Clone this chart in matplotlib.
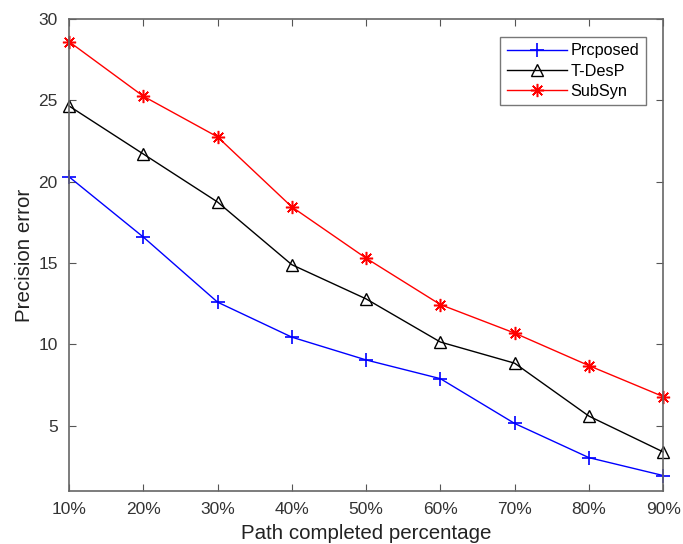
import matplotlib
matplotlib.use("Agg")
import matplotlib.pyplot as plt

x_labels = ["10%", "20%", "30%", "40%", "50%", "60%", "70%", "80%", "90%"]
proposed = [20.3, 16.6, 12.6, 10.45, 9.05, 7.9, 5.15, 3.05, 1.95]
tdesp = [24.65, 21.7, 18.75, 14.9, 12.8, 10.15, 8.85, 5.6, 3.4]
subsyn = [28.6, 25.25, 22.75, 18.45, 15.3, 12.45, 10.7, 8.7, 6.8]

plt.rcParams['font.family'] = ['Liberation Sans', 'DejaVu Sans']

fig = plt.figure(figsize=(6.83, 5.44), dpi=100)
ax = fig.add_axes([0.101, 0.0974, 0.87, 0.868])
xs = list(range(len(x_labels)))
ax.plot(xs, proposed, color='#0000ff', marker='+', markersize=10, mew=1.2, lw=1.0, label='Prcposed', clip_on=False)
ax.plot(xs, tdesp, color='#000000', marker='^', markersize=8.5, mfc='none', mew=1.0, lw=1.0, label='T-DesP', clip_on=False)
ax.plot(xs, subsyn, color='#ff0000', marker=(8, 2, 0), markersize=9.5, mew=1.1, lw=1.0, label='SubSyn', clip_on=False)

ax.set_xlim(0, 8)
ax.set_ylim(1, 30)
ax.set_xticks(xs)
ax.set_xticklabels(x_labels)
ax.set_yticks([5, 10, 15, 20, 25, 30])
ax.tick_params(direction='in', top=True, right=True, length=5, width=0.8, colors='#555555',
               labelcolor='#333333', labelsize=12.5, pad=8)
for s in ax.spines.values():
    s.set_color('#666666')
    s.set_linewidth(1.2)
ax.set_xlabel('Path completed percentage', fontsize=14.8, color='#222222', labelpad=5)
ax.set_ylabel('Precision error', fontsize=14.8, color='#222222', labelpad=3)
leg = ax.legend(loc='upper right', bbox_to_anchor=(0.971, 0.962), fancybox=False, edgecolor='#555555',
                fontsize=11.7, handlelength=3.7, borderpad=0.4, labelspacing=0.33, handletextpad=0.25,
                numpoints=1, borderaxespad=0)
leg.get_frame().set_linewidth(1.0)
fig.savefig('out.png', dpi=100)
